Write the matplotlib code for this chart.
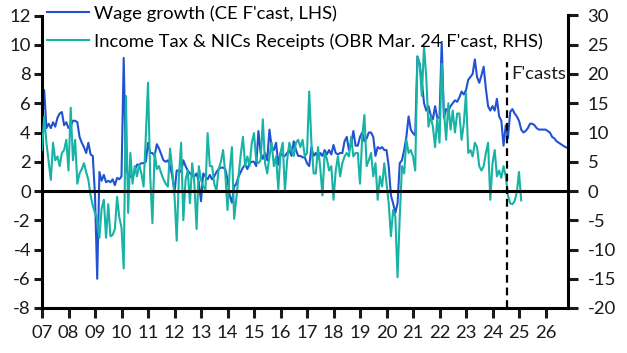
import matplotlib
matplotlib.use("Agg")
import matplotlib.pyplot as plt
import numpy as np

plt.rcParams['font.family'] = ['Lato', 'DejaVu Sans']
plt.rcParams['axes.unicode_minus'] = False

start_year = 2007

# Wage growth, % y/y (LHS), monthly from Jan 2007 (forecast from mid-2024)
wage_growth = [
    5.8, 6.9, 4.3, 4.6, 4.3, 4.7, 4.4, 5.0, 5.3, 5.4, 4.5, 4.7,      # 2007
    4.3, 4.4, 4.8, 4.8, 4.7, 3.7, 3.3, 3.0, 2.6, 3.3, 2.5, 2.4,      # 2008
    -0.3, -6.0, 1.3, 0.7, 1.1, 0.6, 0.7, 0.6, 0.8, 0.4, 0.9, 0.8,    # 2009
    1.0, 9.1, 1.4, 1.2, 1.0, 0.9, 1.4, 1.8, 1.8, 1.9, 1.9, 2.0,      # 2010
    3.3, 2.6, 2.6, 2.4, 3.2, 2.9, 2.5, 2.1, 2.0, 2.1, 1.7, 1.0,      # 2011
    -0.1, 1.4, 1.4, 1.3, 2.1, 1.7, 1.4, 1.2, 1.1, 1.0, 1.2, 0.6,     # 2012
    -0.7, 1.2, 1.0, 0.8, 1.1, 0.8, 1.0, 1.3, 1.5, 1.6, 1.6, 1.5,     # 2013
    0.8, -0.3, -0.8, 0.3, 0.5, 1.0, 1.3, 1.6, 1.8, 1.5, 1.9, 2.0,    # 2014
    2.0, 1.7, 4.1, 2.6, 2.2, 2.6, 2.1, 4.2, 3.0, 2.8, 3.3, 1.8,      # 2015
    2.6, 2.4, 2.4, 2.6, 2.8, 2.4, 3.4, 2.8, 2.4, 2.4, 2.3, 2.3,      # 2016
    1.9, 1.7, 3.0, 2.4, 2.6, 2.2, 2.6, 2.4, 2.8, 2.5, 2.8, 2.5,      # 2017
    3.15, 2.6, 2.5, 2.6, 2.6, 3.4, 3.7, 2.8, 3.2, 4.1, 3.1, 3.1,     # 2018
    3.7, 4.0, 3.4, 3.6, 4.0, 4.0, 3.7, 2.4, 3.0, 2.9, 3.0, 2.8,      # 2019
    2.8, 1.7, -0.3, -0.85, -1.5, -0.85, 1.9, 2.1, 2.8, 3.7, 5.1, 4.2,  # 2020
    3.95, 3.8, 9.2, 8.7, 7.5, 6.0, 5.5, 5.8, 5.2, 4.9, 5.8, 5.0,     # 2021
    5.0, 10.2, 5.0, 5.6, 5.5, 5.8, 6.0, 6.2, 6.1, 6.4, 6.8, 6.6,     # 2022
    6.9, 7.6, 7.8, 8.0, 9.0, 7.8, 7.4, 7.9, 8.5, 7.0, 5.8, 5.5,      # 2023
    5.8, 5.5, 6.3, 5.1, 4.8, 3.1, 4.5, 3.6, 5.4, 5.6, 5.3, 5.1,      # 2024
    4.8, 4.2, 4.0, 4.1, 4.3, 4.6, 4.6, 4.5, 4.3, 4.2, 4.2, 4.2,      # 2025
    4.2, 4.1, 4.0, 3.7, 3.6, 3.4, 3.3, 3.2, 3.1, 3.0, 2.95, 2.9,     # 2026
]

# Income tax & NICs receipts, % y/y (RHS), monthly from Jan 2007
income_tax = [
    7.0, 12.75, 8.25, 5.0, 1.9, 8.25, 5.25, 5.9, 4.25, 6.5, 7.0, 8.75,        # 2007
    3.5, 14.25, 5.25, 8.75, 1.25, 3.0, 3.75, 4.75, 3.25, 1.9, -0.75, -2.5,    # 2008
    -3.75, -4.75, -8.0, -3.0, -1.5, -8.0, -2.25, -7.75, -7.5, -6.5, -1.0, -4.5,  # 2009
    -6.25, -13.25, 16.25, -3.75, 6.5, 1.25, 4.25, 2.5, 4.5, 3.0, 0.75, 9.25,  # 2010
    18.5, 2.5, -5.5, 6.5, 3.75, 4.25, 3.0, 2.0, 1.25, 0.75, 7.25, 3.5,        # 2011
    -0.75, -8.5, 2.5, 8.25, -5.0, 1.9, 3.5, -2.1, 4.75, 1.25, -6.5, 4.25,     # 2012
    1.9, 0.75, 0.25, 9.9, 4.25, 4.25, 1.25, 0.0, 3.75, 5.0, 7.0, 3.0,         # 2013
    -3.25, 3.5, 7.5, -4.75, -1.25, 2.5, 6.25, 9.25, 4.25, 5.9, 4.25, 8.25,    # 2014
    9.9, 5.25, 4.75, 5.25, 12.25, 4.75, 3.0, 5.9, 8.25, 4.25, 5.9, 0.25,      # 2015
    6.5, 8.25, 0.0, 5.25, 8.25, 7.0, 6.0, 8.25, 8.75, 7.5, 8.75, 5.9,         # 2016
    6.5, 17.0, 8.25, 3.0, 3.0, 7.5, 4.0, -0.75, 6.5, 5.5, 3.5, 4.25,         # 2017
    -1.5, 3.5, 5.9, 2.5, 4.75, 5.9, 6.5, 5.9, 9.25, 5.9, 6.5, 6.5,           # 2018
    1.25, 9.25, 13.0, 4.25, 5.25, 6.5, 2.5, 4.75, -1.5, 2.5, 0.75, 4.75,      # 2019
    1.25, -2.1, -7.75, -3.25, -4.4, -14.75, -4.4, 4.25, 3.0, 8.75, 6.5, 7.0,  # 2020
    5.9, 3.5, 23.0, 21.75, 16.25, 24.75, 19.5, 11.0, 12.75, 11.0, 7.5, 12.5,  # 2021
    8.25, 21.75, 13.75, 8.75, 15.0, 10.5, 13.75, 10.0, 13.25, 13.25, 8.75, 11.5,  # 2022
    16.75, 6.5, 7.0, 5.9, 8.25, 7.5, 4.25, 3.5, 4.25, 6.5, 8.25, -1.5,        # 2023
    4.75, 7.0, 2.5, 3.5, 2.25, 4.25, 2.5, -0.75, -2.1, -2.25, -1.75, -0.25,   # 2024
    3.25, -1.6,                                                               # 2025
]

forecast_start = 2024.56
year_ticks = list(range(2007, 2027))
year_labels = [f"{y % 100:02d}" for y in year_ticks]
lhs_ticks = list(range(-8, 13, 2))
rhs_ticks = list(range(-20, 31, 5))
labels = ["Wage growth (CE F'cast, LHS)",
          "Income Tax & NICs Receipts (OBR Mar. 24 F'cast, RHS)"]

BLUE = '#2152d1'
TEAL = '#17b3a4'
FS = 13.3

fig = plt.figure(figsize=(6.27, 3.53), dpi=100)
ax = fig.add_axes([42 / 627, 1 - 308 / 353, (568 - 42) / 627, (308 - 15.5) / 353])
ax2 = ax.twinx()

xw = start_year + np.arange(len(wage_growth)) / 12
xt = start_year + np.arange(len(income_tax)) / 12

l1, = ax.plot(xw, wage_growth, color=BLUE, lw=1.5, label=labels[0])
l2, = ax2.plot(xt, income_tax, color=TEAL, lw=1.5, label=labels[1])

ax2.axhline(0, color='black', lw=2.2, zorder=5)
ax2.axvline(forecast_start, ymin=0, ymax=(8.8 + 8) / 20, color='black',
            lw=1.6, ls=(0, (3.5, 2.2)), zorder=5)
ax2.text(forecast_start + 0.15, 20, "F'casts", ha='left', va='center',
         fontsize=FS, color='#1a1a1a')

ax.set_xlim(2007, 2007 + (568 - 42) / 26.5)
ax.set_ylim(-8, 12)
ax2.set_ylim(-20, 30)
ax.set_xticks(year_ticks)
ax.set_xticklabels(year_labels)
ax.set_yticks(lhs_ticks)
ax2.set_yticks(rhs_ticks)

for a in (ax, ax2):
    a.spines['top'].set_visible(False)
ax.spines['right'].set_visible(False)
ax2.spines['left'].set_visible(False)
ax2.spines['bottom'].set_visible(False)
for s in ('left', 'bottom'):
    ax.spines[s].set_linewidth(2.2)
ax2.spines['right'].set_linewidth(2.2)

ax.tick_params(axis='y', direction='out', length=6, width=2.2, labelsize=FS,
               pad=2, colors='#1a1a1a')
ax.tick_params(axis='x', direction='out', length=7, width=2.2, labelsize=FS,
               pad=5, colors='#1a1a1a')
ax2.tick_params(axis='y', direction='out', length=7, width=2.2, labelsize=FS,
                pad=7, colors='#1a1a1a')

ax2.legend(handles=[l1, l2], loc='upper left',
           bbox_to_anchor=(47 / 627, 1 - 5 / 353), bbox_transform=fig.transFigure,
           frameon=False, fontsize=FS, handlelength=2.3, handletextpad=0.25,
           borderpad=0, borderaxespad=0, labelspacing=0.64)

fig.savefig('out.png', dpi=100)
